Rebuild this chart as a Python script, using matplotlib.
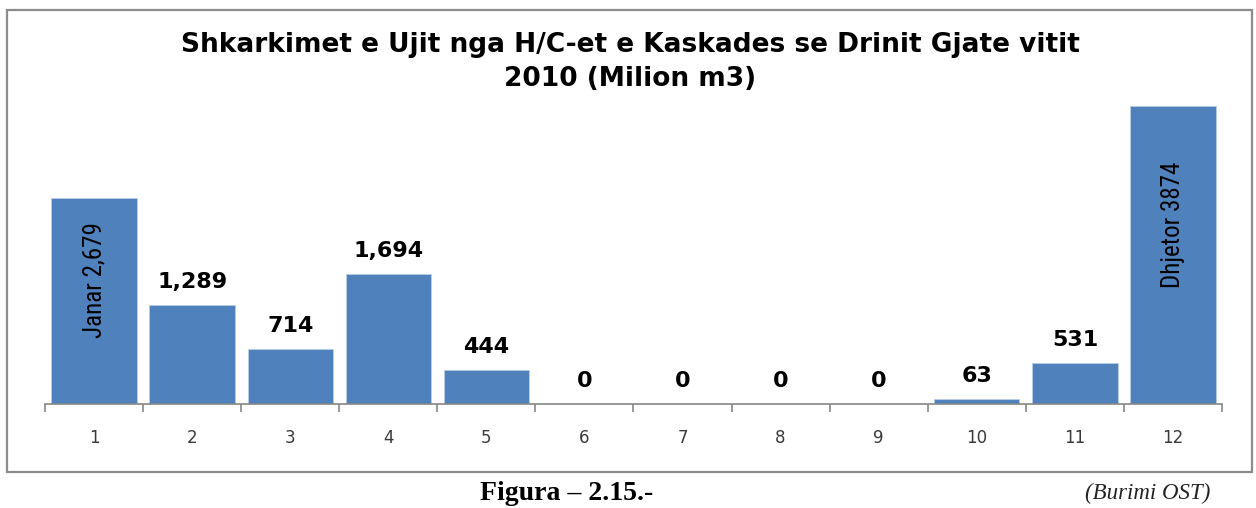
import numpy as np
import matplotlib.pyplot as plt
from matplotlib.patches import Rectangle

# monthly discharge, million m3
months = ['1', '2', '3', '4', '5', '6', '7', '8', '9', '10', '11', '12']
values = [2679, 1289, 714, 1694, 444, 0, 0, 0, 0, 63, 531, 3874]
value_labels = ['', '1,289', '714', '1,694', '444', '0', '0', '0', '0', '63', '531', '']
inbar_labels = {0: 'Janar 2,679', 11: 'Dhjetor 3874'}

title = 'Shkarkimet e Ujit nga H/C-et e Kaskades se Drinit Gjate vitit\n2010 (Milion m3)'
bar_color = '#4F81BD'
narrow = ['DejaVu Sans Condensed', 'Liberation Sans Narrow', 'Roboto Condensed', 'DejaVu Sans']

fig = plt.figure(figsize=(12.56, 5.08), dpi=100)
fig.patch.set_facecolor('white')

# chart frame
fig.patches.append(Rectangle((7 / 1256, 1 - 472 / 508), (1252 - 7) / 1256, (472 - 10) / 508,
                             transform=fig.transFigure, fill=False, edgecolor='#8c8c8c', lw=1.6))

ax = fig.add_axes([45 / 1256, 1 - 404 / 508, (1222 - 45) / 1256, 307.6 / 508])
x = np.arange(len(months))
ax.bar(x, values, width=0.87, color=bar_color, edgecolor='#b9cde5', linewidth=0.6, zorder=2)
ax.set_xlim(-0.5, len(months) - 0.5)
ax.set_ylim(0, 4000)

for sp in ['top', 'right', 'left']:
    ax.spines[sp].set_visible(False)
ax.spines['bottom'].set_color('#868686')
ax.spines['bottom'].set_linewidth(1.2)
ax.set_yticks([])
ax.set_xticks(np.arange(-0.5, len(months)), minor=False)
ax.set_xticklabels([])
ax.tick_params(axis='x', which='major', direction='out', length=6, color='#868686', width=1.2)
ax.set_xticks(x, minor=True)
ax.set_xticklabels(months, minor=True, fontsize=12, color='#3a3a3a', family='DejaVu Sans')
ax.tick_params(axis='x', which='minor', length=0, pad=18)

for i, v in enumerate(values):
    if value_labels[i]:
        ax.annotate(value_labels[i], (i, v), xytext=(0, 16.5), textcoords='offset points',
                    ha='center', va='center', fontsize=16, fontweight='bold', family='DejaVu Sans')
for i, lab in inbar_labels.items():
    ax.text(i, values[i] * 0.6, lab, rotation=90, ha='center', va='center', fontsize=18,
            family=narrow)

fig.text(630 / 1256, 1 - 62 / 508, title, ha='center', va='center', fontsize=19,
         fontweight='bold', family='DejaVu Sans', linespacing=1.35)

fig.text(567 / 1256, 1 - 493 / 508, 'Figura – 2.15.-', ha='center', va='center',
         fontsize=20, fontweight='bold', family='Liberation Serif')
fig.text(1210 / 1256, 1 - 493 / 508, '(Burimi OST)', ha='right', va='center',
         fontsize=16.5, style='italic', family='Liberation Serif', color='#222222')

fig.savefig('out.png', dpi=100)
